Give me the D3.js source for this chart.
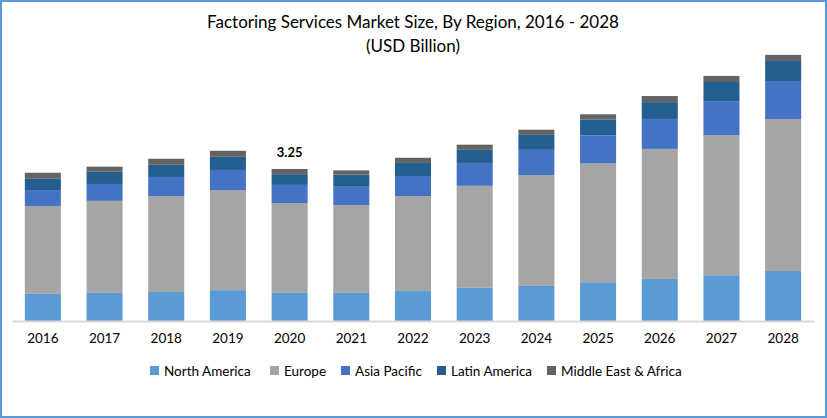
<!DOCTYPE html>
<html>
<head>
<meta charset="utf-8">
<script src="https://cdn.jsdelivr.net/npm/d3@7"></script>
<style>
  html, body { margin: 0; padding: 0; background: #fff; }
  svg { display: block; }
  text { font-family: Lato, "Open Sans", sans-serif; }
</style>
</head>
<body>
<svg id="chart" width="827" height="418"></svg>
<script>
const years = ["2016","2017","2018","2019","2020","2021","2022","2023","2024","2025","2026","2027","2028"];
const seriesNames = ["North America","Europe","Asia Pacific","Latin America","Middle East & Africa"];
const northAmerica = [0.58,0.60,0.62,0.66,0.60,0.60,0.64,0.71,0.75,0.83,0.90,0.98,1.07];
const europe       = [1.88,1.97,2.05,2.14,1.92,1.88,2.03,2.18,2.37,2.54,2.78,2.99,3.25];
const asiaPacific  = [0.34,0.36,0.41,0.43,0.39,0.39,0.43,0.49,0.54,0.60,0.64,0.73,0.81];
const latinAmerica = [0.24,0.26,0.26,0.28,0.23,0.26,0.28,0.28,0.32,0.34,0.36,0.41,0.43];
const middleEast   = [0.13,0.11,0.13,0.13,0.11,0.09,0.11,0.11,0.11,0.11,0.13,0.13,0.13];
const labelYear = "2020";
const labelText = "3.25";
const colors = ["#5B9BD5","#A5A5A5","#4472C4","#255E91","#636363"];

const seriesData = [northAmerica, europe, asiaPacific, latinAmerica, middleEast];
const rows = years.map((y, i) => {
  const r = { year: y };
  seriesNames.forEach((s, j) => r[s] = seriesData[j][i]);
  return r;
});

const svg = d3.select("#chart");
const W = 827, H = 418;

// border
svg.append("rect").attr("x", 1).attr("y", 1).attr("width", W - 2).attr("height", H - 2)
  .attr("fill", "#fff").attr("stroke", "#5B9BD5").attr("stroke-width", 2);

// title
svg.append("text").attr("x", 413).attr("y", 28).attr("text-anchor", "middle")
  .attr("font-size", 17).attr("fill", "#000").text("Factoring Services Market Size, By Region, 2016 - 2028");
svg.append("text").attr("x", 413).attr("y", 52).attr("text-anchor", "middle")
  .attr("font-size", 17).attr("fill", "#000").text("(USD Billion)");

const x = d3.scaleBand().domain(years).range([12, 814]).paddingInner(0.416).paddingOuter(0.208);
const y = d3.scaleLinear().domain([0, 3.25]).range([321, 169]);

const stack = d3.stack().keys(seriesNames);
const stacked = stack(rows);

svg.append("g").selectAll("g").data(stacked).join("g")
  .attr("fill", (d, i) => colors[i])
  .selectAll("rect").data(d => d).join("rect")
  .attr("x", d => x(d.data.year))
  .attr("y", d => y(d[1]))
  .attr("height", d => y(d[0]) - y(d[1]))
  .attr("width", x.bandwidth());

// axis
const xAxis = svg.append("g").attr("transform", "translate(0,321)")
  .call(d3.axisBottom(x).tickSize(0).tickPadding(12).tickSizeOuter(0));
xAxis.select(".domain").attr("stroke", "#d9d9d9").attr("stroke-width", 2);
xAxis.selectAll("text").attr("font-size", 13.5).attr("fill", "#000")
  .attr("font-family", "Lato, 'Open Sans', sans-serif");

// data label
const lastIdx = years.indexOf(labelYear);
const topVal = stacked[stacked.length - 1][lastIdx][1];
svg.append("text").attr("x", x(labelYear) + x.bandwidth() / 2).attr("y", y(topVal) - 12)
  .attr("text-anchor", "middle").attr("font-size", 13).attr("font-weight", "bold")
  .attr("fill", "#000").text(labelText);

// legend
const legendX = [150, 270, 341, 437, 547];
const lg = svg.append("g").selectAll("g").data(seriesNames).join("g")
  .attr("transform", (d, i) => `translate(${legendX[i]},371)`);
lg.append("rect").attr("x", 0).attr("y", -5).attr("width", 9).attr("height", 9)
  .attr("fill", (d, i) => colors[i]);
lg.append("text").attr("x", 14).attr("y", 5).attr("font-size", 13.5).attr("fill", "#000")
  .text(d => d);
</script>
</body>
</html>
